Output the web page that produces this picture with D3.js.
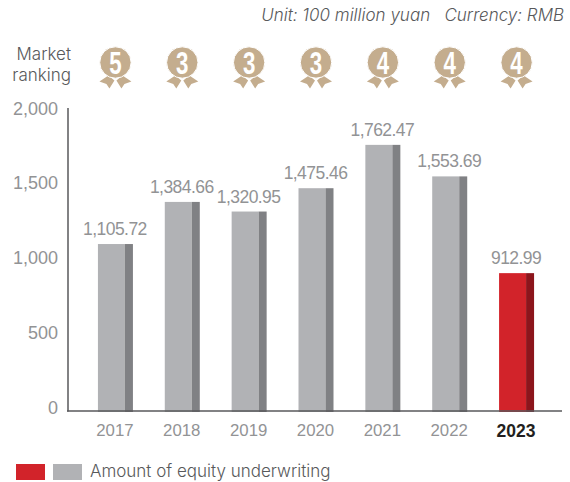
<!DOCTYPE html>
<html>
<head>
<meta charset="utf-8">
<script src="https://cdn.jsdelivr.net/npm/d3@7"></script>
<style>
  html, body { margin: 0; padding: 0; background: #fff; }
  svg { display: block; }
  text { font-family: "Liberation Sans", sans-serif; }
  .label { font-family: Inter, "Noto Sans", sans-serif; font-weight: 300; fill: #58595b; font-size: 17px; }
</style>
</head>
<body>
<svg id="chart" width="570" height="482"></svg>
<script>
var years = ['2017', '2018', '2019', '2020', '2021', '2022', '2023'];
var amounts = [1105.72, 1384.66, 1320.95, 1475.46, 1762.47, 1553.69, 912.99];
var amountLabels = ['1,105.72', '1,384.66', '1,320.95', '1,475.46', '1,762.47', '1,553.69', '912.99'];
var rankings = [5, 3, 3, 3, 4, 4, 4];
var yTicks = [0, 500, 1000, 1500, 2000];

const svg = d3.select('#chart');

const x = d3.scaleBand().domain(years).range([82, 550]);
const y = d3.scaleLinear().domain([0, 2000]).range([411, 109]);
// tick labels sit a bit off the bars' scale in the original
const yLabel = d3.scaleLinear().domain([0, 2000]).range([414, 114.5]);

const barW = 27, sideW = 8;
const medalGold = '#c4ad8e';

function barColor(year) { return year === '2023' ? '#d2232a' : '#b1b2b5' }
function sideColor(year) { return year === '2023' ? '#8c151c' : '#808184' }
function center(year) { return x(year) + x.bandwidth() / 2 }

// bars
const bars = svg.append('g').selectAll('g')
  .data(years)
  .enter().append('g');

bars.append('rect')
  .attr('x', d => center(d) - 17.5)
  .attr('y', (d, i) => y(amounts[i]))
  .attr('width', barW)
  .attr('height', (d, i) => y(0) - y(amounts[i]) + 1)
  .attr('fill', barColor);

bars.append('rect')
  .attr('x', d => center(d) - 17.5 + barW)
  .attr('y', (d, i) => y(amounts[i]))
  .attr('width', sideW)
  .attr('height', (d, i) => y(0) - y(amounts[i]) + 1)
  .attr('fill', sideColor);

bars.append('text')
  .attr('x', d => center(d) - 0.5)
  .attr('y', (d, i) => y(amounts[i]) - 9)
  .attr('text-anchor', 'middle')
  .attr('font-size', 17.5)
  .attr('letter-spacing', -0.55)
  .attr('fill', '#929395')
  .text((d, i) => amountLabels[i]);

// axes
svg.append('line').attr('x1', 68).attr('x2', 68).attr('y1', 108).attr('y2', y(0) + 0.5)
  .attr('stroke', '#58595b').attr('stroke-width', 1.5);
svg.append('line').attr('x1', 67).attr('x2', 562).attr('y1', y(0)).attr('y2', y(0))
  .attr('stroke', '#58595b').attr('stroke-width', 1.5);

svg.append('g').selectAll('text')
  .data(yTicks)
  .enter().append('text')
    .attr('x', 58)
    .attr('y', d => yLabel(d))
    .attr('text-anchor', 'end')
    .attr('font-size', 18)
    .attr('fill', '#929395')
    .text(d => d3.format(',')(d));

svg.append('g').selectAll('text')
  .data(years)
  .enter().append('text')
    .attr('x', d => center(d) - 0.5)
    .attr('y', d => d === '2023' ? 437 : 436)
    .attr('text-anchor', 'middle')
    .attr('font-size', d => d === '2023' ? 17.5 : 16.8)
    .attr('font-weight', d => d === '2023' ? 700 : 400)
    .attr('fill', d => d === '2023' ? '#231f20' : '#929395')
    .text(d => d);

// medals
const medals = svg.append('g').selectAll('g')
  .data(rankings)
  .enter().append('g')
    .attr('transform', (d, i) => 'translate(' + center(years[i]) + ',62.5)');

medals.append('path')
  .attr('d', 'M-16,19 L-7,13 L-1,18 L-6,26 L-9,21.5 Z M16,19 L7,13 L1,18 L6,26 L9,21.5 Z')
  .attr('fill', medalGold);
medals.append('circle')
  .attr('r', 15.7)
  .attr('fill', medalGold)
  .attr('stroke', '#fff')
  .attr('stroke-width', 1);
medals.append('text')
  .attr('transform', 'translate(0,11) scale(0.72,1)')
  .attr('text-anchor', 'middle')
  .attr('font-size', 31)
  .attr('font-weight', 700)
  .attr('fill', '#fff')
  .text(d => d);

// header text
svg.append('text')
  .attr('class', 'label')
  .attr('x', 564).attr('y', 21)
  .attr('text-anchor', 'end')
  .attr('font-style', 'italic')
  .attr('xml:space', 'preserve')
  .text('Unit: 100 million yuan   Currency: RMB');

svg.append('text').attr('class', 'label').attr('x', 71).attr('y', 60).attr('text-anchor', 'end').text('Market');
svg.append('text').attr('class', 'label').attr('x', 71).attr('y', 81).attr('text-anchor', 'end').text('ranking');

// legend
svg.append('rect').attr('x', 16).attr('y', 464).attr('width', 29).attr('height', 16).attr('fill', '#d2232a');
svg.append('rect').attr('x', 53).attr('y', 464).attr('width', 29).attr('height', 16).attr('fill', '#b1b2b5');
svg.append('text').attr('class', 'label').attr('x', 90).attr('y', 477)
  .text('Amount of equity underwriting');
</script>
</body>
</html>
